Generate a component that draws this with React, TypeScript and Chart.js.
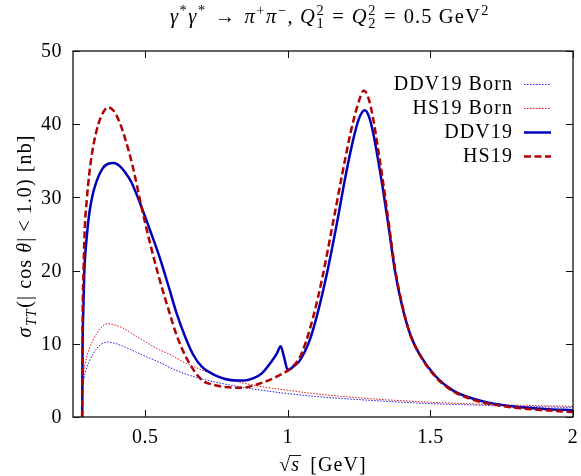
import React, { useEffect, useRef } from "react";
import { Chart, registerables } from "chart.js";

Chart.register(...registerables);

// ---------------- data ----------------
const xTickValues = [0.5, 1, 1.5, 2];
const xTickLabels = ["0.5", "1", "1.5", "2"];
const yTickValues = [0, 10, 20, 30, 40, 50];
const yTickLabels = ["0", "10", "20", "30", "40", "50"];

const seriesLabels = ["DDV19 Born", "HS19 Born", "DDV19", "HS19"];

const bornX = [0.2792, 0.28, 0.283, 0.292, 0.304, 0.327, 0.345, 0.368, 0.39, 0.42, 0.45, 0.5, 0.549, 0.584, 0.64, 0.7, 0.78, 0.82, 0.9, 1.0, 1.1, 1.2, 1.3, 1.4, 1.5, 1.6, 1.7, 1.8, 1.9, 2.0];
const ddvBornY = [0, 2.5, 4.5, 6.3, 7.6, 9.2, 9.9, 10.25, 10.1, 9.7, 9.2, 8.3, 7.5, 6.8, 5.9, 5.2, 4.5, 4.2, 3.7, 3.2, 2.8, 2.5, 2.25, 2.02, 1.83, 1.7, 1.58, 1.47, 1.38, 1.3];
const hsBornY = [0, 3.0, 5.5, 7.7, 9.3, 11.2, 12.2, 12.75, 12.6, 12.2, 11.5, 10.3, 9.2, 8.6, 7.4, 6.4, 5.3, 4.85, 4.2, 3.65, 3.15, 2.78, 2.47, 2.22, 2.02, 1.86, 1.73, 1.62, 1.53, 1.45];

const ddvX = [0.2792, 0.2805, 0.2835, 0.2865, 0.295, 0.304, 0.315, 0.327, 0.35, 0.37, 0.391, 0.41, 0.432, 0.45, 0.467, 0.49, 0.52, 0.55, 0.584, 0.61, 0.643, 0.67, 0.7, 0.74, 0.78, 0.82, 0.85, 0.88, 0.91, 0.946, 0.962, 0.975, 0.988, 1.0, 1.02, 1.04, 1.075, 1.1, 1.135, 1.17, 1.203, 1.23, 1.25, 1.27, 1.285, 1.3, 1.315, 1.333, 1.355, 1.376, 1.4, 1.43, 1.46, 1.52, 1.58, 1.65, 1.7, 1.8, 1.9, 2.0];
const ddvY = [0, 9, 15, 19.6, 24.5, 27.8, 30.2, 31.9, 33.9, 34.6, 34.7, 34.3, 33.3, 32.2, 30.7, 28.4, 25.2, 21.9, 17.6, 14.2, 10.7, 8.4, 6.8, 5.8, 5.2, 5.0, 5.0, 5.3, 6.0, 7.75, 8.7, 9.66, 8.0, 6.4, 6.9, 7.6, 10.3, 13.5, 19.2, 26.0, 33.0, 38.0, 40.8, 41.9, 41.0, 38.7, 35.5, 31.3, 25.6, 19.9, 15.3, 11.2, 8.7, 5.5, 3.6, 2.5, 2.0, 1.4, 1.1, 0.92];

const hsX = [0.2792, 0.2805, 0.284, 0.2885, 0.295, 0.304, 0.315, 0.327, 0.345, 0.371, 0.39, 0.41, 0.43, 0.456, 0.49, 0.52, 0.549, 0.584, 0.61, 0.643, 0.67, 0.7, 0.74, 0.78, 0.84, 0.9, 0.96, 1.005, 1.04, 1.063, 1.09, 1.121, 1.155, 1.191, 1.22, 1.245, 1.267, 1.285, 1.3, 1.315, 1.333, 1.355, 1.376, 1.4, 1.43, 1.46, 1.52, 1.58, 1.65, 1.7, 1.8, 1.9, 2.0];
const hsY = [0, 12, 20, 26, 29.5, 33.2, 36.3, 38.7, 41.0, 42.3, 41.8, 40.3, 38.0, 34.3, 28.2, 23.3, 19.0, 14.4, 11.2, 8.2, 6.4, 5.0, 4.4, 4.1, 4.0, 4.55, 5.5, 6.5, 8.0, 10.2, 13.8, 19.0, 25.8, 33.2, 38.8, 42.6, 44.6, 43.3, 40.6, 37.0, 32.4, 26.2, 20.3, 15.5, 11.2, 8.7, 5.4, 3.5, 2.35, 1.85, 1.25, 0.92, 0.68];

const X_MIN = 0.247;
const X_MAX = 2;
const Y_MIN = 0;
const Y_MAX = 50;

// ---------------- styling ----------------
const FONT = '"Liberation Serif", "DejaVu Serif", serif';
const W = 581;
const H = 476;
const LS = "1.1px";

type Seg = { t: string; it?: boolean; sup?: string; sub?: string; scriptIt?: boolean; pad?: number };

function setFont(ctx: CanvasRenderingContext2D, size: number, it?: boolean) {
  ctx.font = `${it ? "italic " : ""}${size}px ${FONT}`;
  (ctx as any).letterSpacing = LS;
}

function segWidth(ctx: CanvasRenderingContext2D, s: Seg, size: number) {
  setFont(ctx, size, s.it);
  const w = ctx.measureText(s.t).width;
  const ss = size * 0.7;
  let sw = 0;
  if (s.sup) {
    setFont(ctx, ss, false);
    sw = Math.max(sw, ctx.measureText(s.sup).width);
  }
  if (s.sub) {
    setFont(ctx, ss, s.scriptIt);
    sw = Math.max(sw, ctx.measureText(s.sub).width);
  }
  return (s.pad || 0) * 2 + w + (sw ? sw + 1 : 0);
}

function drawRich(ctx: CanvasRenderingContext2D, segs: Seg[], cx: number, baseline: number, size: number) {
  const total = segs.reduce((a, s) => a + segWidth(ctx, s, size), 0);
  let x = cx - total / 2;
  ctx.textBaseline = "alphabetic";
  ctx.textAlign = "left";
  for (const s of segs) {
    x += s.pad || 0;
    setFont(ctx, size, s.it);
    ctx.fillText(s.t, x, baseline);
    const w = ctx.measureText(s.t).width;
    const ss = size * 0.7;
    let sw = 0;
    if (s.sup) {
      setFont(ctx, ss, false);
      ctx.fillText(s.sup, x + w + 0.5, baseline - size * 0.38);
      sw = Math.max(sw, ctx.measureText(s.sup).width);
    }
    if (s.sub) {
      setFont(ctx, ss, s.scriptIt);
      ctx.fillText(s.sub, x + w + 0.5, baseline + size * 0.24);
      sw = Math.max(sw, ctx.measureText(s.sub).width);
    }
    x += w + (sw ? sw + 1 : 0) + (s.pad || 0);
  }
  return total;
}

const titleSegs: Seg[] = [
  { t: "γ", it: true, sup: "*" },
  { t: "γ", it: true, sup: "*" },
  { t: "→", pad: 8 },
  { t: "π", it: true, sup: "+" },
  { t: "π", it: true, sup: "−" },
  { t: ", " },
  { t: "Q", it: true, sup: "2", sub: "1" },
  { t: "=", pad: 7 },
  { t: "Q", it: true, sup: "2", sub: "2" },
  { t: "=", pad: 7 },
  { t: "0.5 GeV", sup: "2" },
];

const yTitleSegs: Seg[] = [
  { t: "σ", it: true, sub: "TT", scriptIt: true },
  { t: "(| cos " },
  { t: "θ", it: true },
  { t: "|" },
  { t: "<", pad: 5 },
  { t: "1.0) [nb]" },
];

const decorPlugin = {
  id: "decor",
  afterDatasetsDraw(chart: any) {
    const ctx: CanvasRenderingContext2D = chart.ctx;
    const { left, right, top, bottom } = chart.chartArea;
    const xs = chart.scales.x;
    const ys = chart.scales.y;
    ctx.save();
    // frame
    ctx.strokeStyle = "#111";
    ctx.lineWidth = 1.3;
    ctx.strokeRect(left, top, right - left, bottom - top);
    // ticks
    const tl = 7;
    ctx.beginPath();
    xTickValues.forEach((v) => {
      const px = Math.round(xs.getPixelForValue(v)) + 0.5;
      ctx.moveTo(px, bottom);
      ctx.lineTo(px, bottom - tl);
      ctx.moveTo(px, top);
      ctx.lineTo(px, top + tl);
    });
    yTickValues.forEach((v) => {
      const py = Math.round(ys.getPixelForValue(v)) + 0.5;
      ctx.moveTo(left, py);
      ctx.lineTo(left + tl, py);
      ctx.moveTo(right, py);
      ctx.lineTo(right - tl, py);
    });
    ctx.lineWidth = 1;
    ctx.stroke();

    ctx.fillStyle = "#000";
    const fs = 20;
    // x tick labels
    setFont(ctx, fs);
    (ctx as any).letterSpacing = "0.5px";
    ctx.textAlign = "center";
    ctx.textBaseline = "middle";
    xTickValues.forEach((v, i) => {
      ctx.fillText(xTickLabels[i], xs.getPixelForValue(v), bottom + 21);
    });
    // y tick labels
    ctx.textAlign = "right";
    yTickValues.forEach((v, i) => {
      ctx.fillText(yTickLabels[i], left - 11, ys.getPixelForValue(v) + 1);
    });

    // title
    drawRich(ctx, titleSegs, (left + right) / 2 + 7, 23, 20.5);

    // x title: sqrt(s) [GeV]
    {
      const cx = (left + right) / 2;
      const base = 471;
      setFont(ctx, fs);
      const wr = ctx.measureText("√").width;
      setFont(ctx, fs, true);
      const ws = ctx.measureText("s").width;
      setFont(ctx, fs);
      const wt = ctx.measureText(" [GeV]").width;
      const total = wr + ws + 4 + wt;
      let x = cx - total / 2;
      ctx.textAlign = "left";
      ctx.textBaseline = "alphabetic";
      setFont(ctx, fs);
      ctx.fillText("√", x, base);
      ctx.beginPath();
      ctx.moveTo(x + wr - 2, base - 15.5);
      ctx.lineTo(x + wr + ws + 1, base - 15.5);
      ctx.lineWidth = 0.9;
      ctx.strokeStyle = "#000";
      ctx.stroke();
      x += wr;
      setFont(ctx, fs, true);
      ctx.fillText("s", x, base);
      x += ws + 4;
      setFont(ctx, fs);
      ctx.fillText(" [GeV]", x, base);
    }

    // y title
    ctx.save();
    ctx.translate(31, (top + bottom) / 2 + 2);
    ctx.rotate(-Math.PI / 2);
    drawRich(ctx, yTitleSegs, 0, 0, fs);
    ctx.restore();

    // legend
    const rows = [84, 108, 132, 156];
    [0, 1, 2, 3].forEach((di, r) => {
      const ds = chart.data.datasets[di];
      const y = rows[r];
      setFont(ctx, fs);
      ctx.textAlign = "right";
      ctx.textBaseline = "middle";
      ctx.fillStyle = "#000";
      ctx.fillText(seriesLabels[di], 513, y + 1);
      ctx.beginPath();
      ctx.setLineDash(ds.borderDash || []);
      ctx.strokeStyle = ds.borderColor;
      ctx.lineWidth = ds.borderWidth;
      ctx.moveTo(524, y + 0.5);
      ctx.lineTo(551, y + 0.5);
      ctx.stroke();
      ctx.setLineDash([]);
    });
    ctx.restore();
  },
};

function pts(xa: number[], ya: number[]) {
  return xa.map((x, i) => ({ x, y: ya[i] }));
}

export default function App() {
  const ref = useRef<HTMLCanvasElement | null>(null);
  useEffect(() => {
    document.body.style.margin = "0";
    const canvas = ref.current!;
    const common = { pointRadius: 0, cubicInterpolationMode: "monotone", fill: false };
    const chart = new Chart(canvas, {
      type: "line",
      data: {
        datasets: [
          { ...common, label: seriesLabels[0], data: pts(bornX, ddvBornY), borderColor: "#1a1aee", borderWidth: 1, borderDash: [1.5, 1.5], order: 3 },
          { ...common, label: seriesLabels[1], data: pts(bornX, hsBornY), borderColor: "#e01010", borderWidth: 1, borderDash: [1.5, 1.5], order: 2 },
          { ...common, label: seriesLabels[2], data: pts(ddvX, ddvY), borderColor: "#0000b8", borderWidth: 2.5, order: 1 },
          { ...common, label: seriesLabels[3], data: pts(hsX, hsY), borderColor: "#b00000", borderWidth: 2.5, borderDash: [7, 3.5], order: 0 },
        ],
      },
      options: {
        responsive: false,
        animation: false,
        devicePixelRatio: 1,
        layout: { padding: { left: 73, right: 8, top: 51, bottom: 59 } },
        plugins: { legend: { display: false }, tooltip: { enabled: false }, title: { display: false } },
        scales: {
          x: {
            type: "linear",
            min: X_MIN,
            max: X_MAX,
            display: false,
            afterBuildTicks: (s: any) => {
              s.ticks = xTickValues.map((value) => ({ value }));
            },
          },
          y: {
            type: "linear",
            min: Y_MIN,
            max: Y_MAX,
            display: false,
            afterBuildTicks: (s: any) => {
              s.ticks = yTickValues.map((value) => ({ value }));
            },
          },
        },
      },
      plugins: [decorPlugin],
    } as any);
    return () => chart.destroy();
  }, []);
  return (
    <div style={{ position: "fixed", left: 0, top: 0, width: W, height: H, background: "#fff" }}>
      <canvas ref={ref} width={W} height={H} style={{ width: W, height: H, display: "block" }} />
    </div>
  );
}
